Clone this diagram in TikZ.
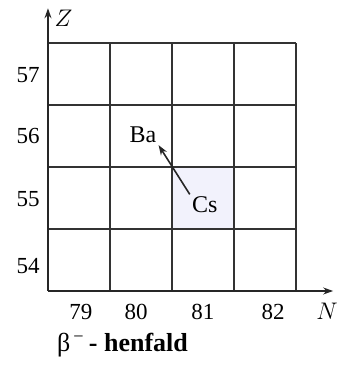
\documentclass[tikz,border=0pt]{standalone}
\usepackage{fontspec}
\setmainfont{Liberation Serif}
\usepackage{tikz}
\usetikzlibrary{positioning}
\usetikzlibrary{arrows.meta}

\begin{document}
\begin{tikzpicture}[x=31pt, y=31pt, font=\fontsize{11.5}{13}\selectfont,
    grid line/.style={black!80, line width=0.6pt},
    axis line/.style={black!85, line width=0.8pt, -{Stealth[length=5pt, width=3.5pt]}},
    tick label/.style={inner sep=1pt},
    axis label/.style={inner sep=1pt, font=\fontsize{13}{15}\selectfont},
    nuclide/.style={inner sep=1pt, font=\fontsize{12}{14}\selectfont},
    shaded cell/.style={fill=black!20!blue!5!white}
]
    \useasboundingbox (-0.774,-1.226) rectangle (4.806,4.694);
    % Cs-cellen
    \fill[shaded cell] (2,1) rectangle (3,2);
    \foreach \k in {1,...,4} {
        \draw[grid line] (\k,0) -- (\k,4);
        \draw[grid line] (0,\k) -- (4,\k);
    }
    \draw[axis line] (0,0) -- (0,4.56);
    \draw[axis line] (0,0) -- (4.6,0);
    \node[axis label] (z) at (0.25,4.40) {$Z$};
    \node[axis label] (n) at (4.5,-0.32) {$N$};

    \node[tick label] (z57) at (-0.32,3.48) {57};
    \node[tick label] (z56) at (-0.32,2.50) {56};
    \node[tick label] (z55) at (-0.32,1.48) {55};
    \node[tick label] (z54) at (-0.32,0.40) {54};

    \node[tick label] (n79) at (0.53,-0.34) {79};
    \node[tick label] (n80) at (1.42,-0.34) {80};
    \node[tick label] (n81) at (2.50,-0.34) {81};
    \node[tick label] (n82) at (3.63,-0.34) {82};

    \node[nuclide] (ba) at (1.53,2.52) {Ba};
    \node[nuclide] (cs) at (2.53,1.39) {Cs};
    \draw[black!85, line width=0.8pt, -{Stealth[length=5pt, width=3.5pt]}] (cs.north west) -- (ba.south east);

    \node[anchor=west, inner sep=0pt, font=\fontsize{13}{15}\selectfont] (titel) at (0.14,-0.87) {β\textsuperscript{\,−}\,\textbf{- henfald}};
\end{tikzpicture}
\end{document}
